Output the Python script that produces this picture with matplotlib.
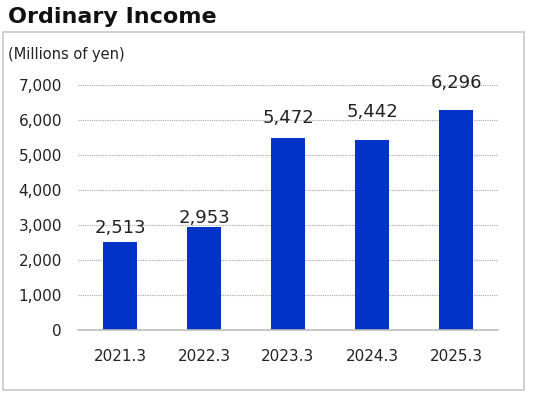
import matplotlib
matplotlib.use("Agg")
import matplotlib.pyplot as plt
from matplotlib.patches import Rectangle

# data
periods = ["2021.3", "2022.3", "2023.3", "2024.3", "2025.3"]
ordinary_income = [2513, 2953, 5472, 5442, 6296]
y_ticks = [0, 1000, 2000, 3000, 4000, 5000, 6000, 7000]

# label lift above bar top (points), labels were hand-placed in the source
label_lift = [10, 6.5, 15, 19.5, 19.5]

BAR = "#0233C8"

fig = plt.figure(figsize=(5.33, 4.08), dpi=100)
fig.patch.set_facecolor("white")

# outer frame around the chart body
fig.add_artist(Rectangle((3 / 533, 1 - 390 / 408), 521 / 533, 358 / 408,
                         transform=fig.transFigure, fill=False,
                         ec="#C8C8C8", lw=1.2))

fig.text(8 / 533, 1 - 17 / 408, "Ordinary Income", fontsize=16,
         fontweight="bold", ha="left", va="center", color="#111")
fig.text(8 / 533, 1 - 54 / 408, "(Millions of yen)", fontsize=10.5,
         ha="left", va="center", color="#222")

ax = fig.add_axes([78 / 533, 78 / 408, 420 / 533, 245 / 408])
x = range(len(periods))
bars = ax.bar(x, ordinary_income, width=0.4, color=BAR, zorder=3)

for b, v, lift in zip(bars, ordinary_income, label_lift):
    ax.annotate(f"{v:,}", (b.get_x() + b.get_width() / 2, v),
                xytext=(0, lift), textcoords="offset points",
                ha="center", va="center", fontsize=13, color="#222",
                zorder=4)

ax.set_xlim(-0.5, len(periods) - 0.5)
ax.set_ylim(0, 7000)
ax.set_yticks(y_ticks)
ax.set_yticklabels([f"{t:,}" for t in y_ticks])
ax.set_xticks(list(x))
ax.set_xticklabels(periods)
ax.tick_params(axis="both", length=0, labelsize=11, colors="#222")
ax.tick_params(axis="y", pad=11.5)
ax.tick_params(axis="x", pad=14)

ax.yaxis.grid(True, ls=(0, (1, 1)), color="#A8A8A8", lw=0.8, zorder=0)
for s in ["top", "right", "left"]:
    ax.spines[s].set_visible(False)
ax.spines["bottom"].set_color("#BDBDBD")
ax.spines["bottom"].set_linewidth(1.2)
ax.spines["bottom"].set_zorder(4)

fig.savefig("out.png", dpi=100)
